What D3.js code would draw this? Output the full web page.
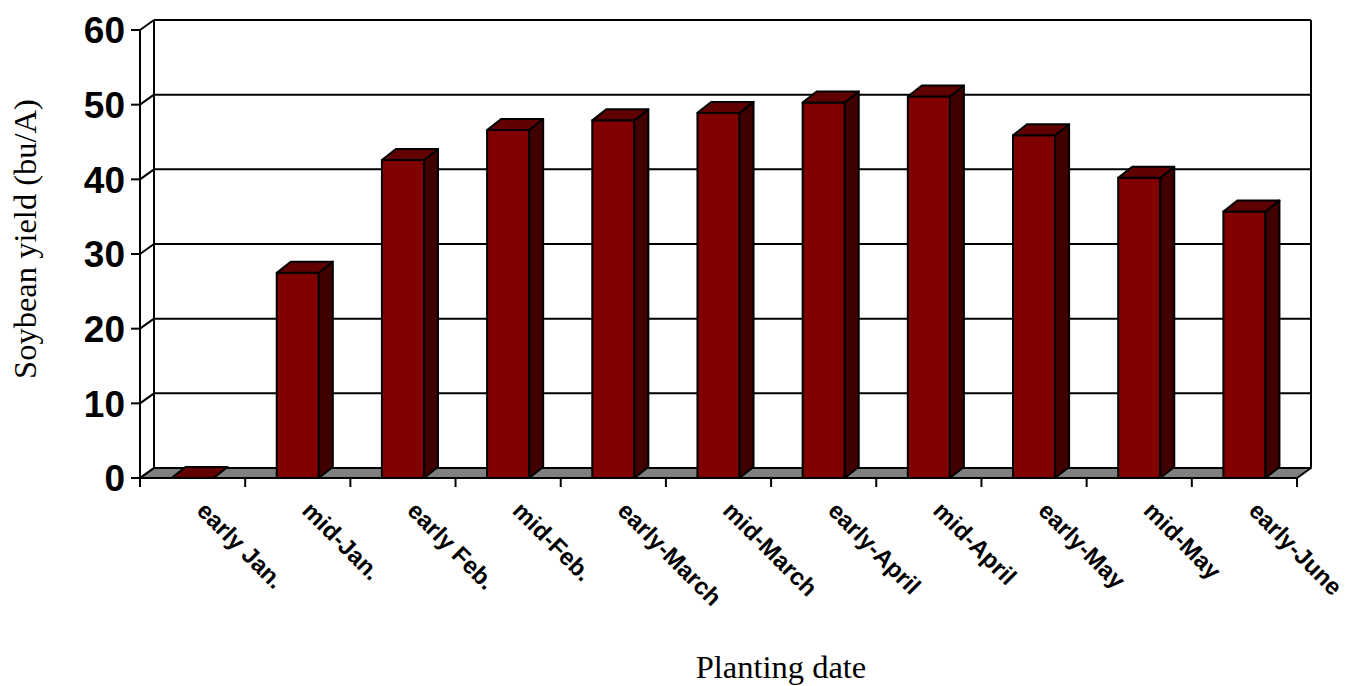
<!DOCTYPE html>
<html>
<head>
<meta charset="utf-8">
<script src="https://cdn.jsdelivr.net/npm/d3@7"></script>
<style>
  body { margin: 0; background: #fff; }
  svg { display: block; }
</style>
</head>
<body>
<div id="chart"></div>
<script>
var categories = ["early Jan.", "mid-Jan.", "early Feb.", "mid-Feb.", "early-March", "mid-March",
                  "early-April", "mid-April", "early-May", "mid-May", "early-June"];
var yields = [0, 27.5, 42.6, 46.6, 47.9, 48.9, 50.3, 51.1, 45.9, 40.2, 35.7];
var yTicks = [0, 10, 20, 30, 40, 50, 60];

var W = 1351, H = 686;
var dx = 14, dy = -10;   // depth of the 3d box

var svg = d3.select("#chart").append("svg")
  .attr("width", W).attr("height", H);

var x = d3.scaleBand()
  .domain(categories)
  .range([140, 1297])
  .padding(0);

var y = d3.scaleLinear()
  .domain([0, 60])
  .range([478, 30]);

var x0 = x.range()[0], x1 = x.range()[1];
var yTop = y(60), yBot = y(0);

function pts(a) {
  return a.map(function(p){ return p[0] + "," + p[1]; }).join(" ");
}

// floor
svg.append("polygon")
  .attr("points", pts([[x0, yBot], [x1, yBot], [x1 + dx, yBot + dy], [x0 + dx, yBot + dy]]))
  .attr("fill", "#808080")
  .attr("stroke", "#000")
  .attr("stroke-width", 2)
  .attr("stroke-linejoin", "round");

// gridlines on back wall + diagonals on side wall
var grid = svg.append("g").attr("stroke", "#000").attr("stroke-width", 2);
yTicks.forEach(function(t){
  if (t > 0) {
    grid.append("line")
      .attr("x1", x0 + dx).attr("x2", x1 + dx)
      .attr("y1", y(t) + dy).attr("y2", y(t) + dy);
  }
  grid.append("line")
    .attr("x1", x0).attr("x2", x0 + dx)
    .attr("y1", y(t)).attr("y2", y(t) + dy);
});

// wall edges
grid.append("line").attr("x1", x0 + dx).attr("x2", x0 + dx).attr("y1", yTop + dy).attr("y2", yBot + dy);
grid.append("line").attr("x1", x1 + dx).attr("x2", x1 + dx).attr("y1", yTop + dy).attr("y2", yBot + dy);
grid.append("line").attr("x1", x0).attr("x2", x0).attr("y1", yTop).attr("y2", yBot);

// bars
var bw = x.bandwidth() * 0.4;
var bdy = -11;
var bars = svg.append("g").selectAll("g")
  .data(yields)
  .enter().append("g")
  .attr("stroke", "#000")
  .attr("stroke-width", 2)
  .attr("stroke-linejoin", "round");

bars.each(function(v, i){
  var g = d3.select(this);
  var bx = x(categories[i]) + (x.bandwidth() - bw) / 2;
  var top = y(v);
  if (v > 0) {
    g.append("rect")
      .attr("x", bx).attr("y", top)
      .attr("width", bw).attr("height", yBot - top)
      .attr("fill", "#800000");
    g.append("polygon")
      .attr("points", pts([[bx + bw, top], [bx + bw + dx, top + bdy], [bx + bw + dx, yBot + bdy], [bx + bw, yBot]]))
      .attr("fill", "#400000");
  }
  g.append("polygon")
    .attr("points", pts([[bx, top], [bx + dx, top + bdy], [bx + bw + dx, top + bdy], [bx + bw, top]]))
    .attr("fill", "#600000");
});

// y axis ticks and labels
var yAxis = svg.append("g");
yTicks.forEach(function(t){
  yAxis.append("line")
    .attr("x1", 131).attr("x2", x0)
    .attr("y1", y(t)).attr("y2", y(t))
    .attr("stroke", "#000").attr("stroke-width", 2);
  yAxis.append("text")
    .attr("x", 125).attr("y", y(t))
    .attr("dy", "0.36em")
    .attr("text-anchor", "end")
    .attr("font-family", "'Liberation Sans', Arial, sans-serif")
    .attr("font-weight", "bold")
    .attr("font-size", 37)
    .text(t);
});

// x axis ticks (band edges)
var xt = svg.append("g").attr("stroke", "#000").attr("stroke-width", 2);
categories.forEach(function(c){
  xt.append("line").attr("x1", x(c)).attr("x2", x(c)).attr("y1", yBot).attr("y2", yBot + 9);
});
xt.append("line").attr("x1", x1).attr("x2", x1).attr("y1", yBot).attr("y2", yBot + 9);

// rotated category labels
svg.append("g").selectAll("text")
  .data(categories)
  .enter().append("text")
  .attr("transform", function(d){
    return "translate(" + (x(d) + x.bandwidth() / 2 + 3) + ",512) rotate(45)";
  })
  .attr("font-family", "'Liberation Sans', Arial, sans-serif")
  .attr("font-weight", "bold")
  .attr("font-size", 24)
  .text(function(d){ return d; });

// axis titles
svg.append("text")
  .attr("transform", "translate(36,239) rotate(-90)")
  .attr("text-anchor", "middle")
  .attr("font-family", "'Liberation Serif', 'Times New Roman', serif")
  .attr("font-size", 32.5)
  .text("Soybean yield (bu/A)");

svg.append("text")
  .attr("x", 781).attr("y", 678)
  .attr("text-anchor", "middle")
  .attr("font-family", "'Liberation Serif', 'Times New Roman', serif")
  .attr("font-size", 32.5)
  .text("Planting date");
</script>
</body>
</html>
